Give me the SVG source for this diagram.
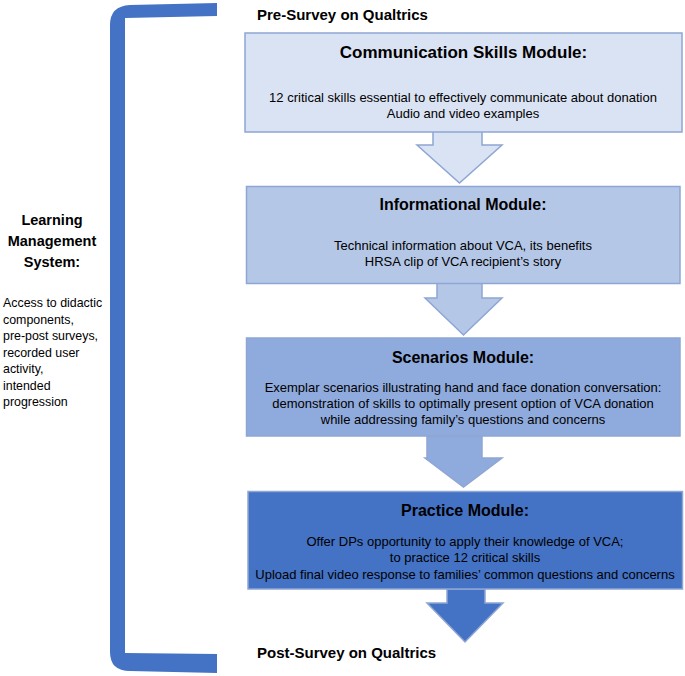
<svg xmlns="http://www.w3.org/2000/svg" width="685" height="676" viewBox="0 0 685 676">
<style>
text{font-family:"Liberation Sans",Arial,sans-serif;fill:#000}
.t{font-size:16px;font-weight:bold;text-anchor:middle}
.b{font-size:13px;text-anchor:middle}
.s{font-size:15px;font-weight:bold}
.lb{font-size:14.5px;font-weight:bold;text-anchor:middle}
.l{font-size:12.4px}
.box{stroke:#8EA6D4;stroke-width:1.5}
.c1{fill:#DAE3F3}.c2{fill:#B4C7E7}.c3{fill:#8FAADC}.c4{fill:#4472C4}
</style>
<rect width="685" height="676" fill="#fff"/>
<g id="bracket">
<path d="M217,3 L130,5 Q110,6 110,25 L110,652 Q110,671 130,671 L217,673 L217,654 L125,653 L125,18 L217,16 Z" fill="#4472C4"/>
</g>
<g id="connectors">
<polygon class="box c1" points="433,131 482,131 482,145 502,145 459.5,183 417,145 433,145"/>
<polygon class="box c2" points="437,283 482,283 482,298 502,298 463.5,335 425,298 437,298"/>
<polygon class="box c3" points="427,436 482,436 482,458 502,458 463.5,487 425,458 427,458"/>
<polygon class="box c4" points="447,589 485,589 485,603 503,603 465,642 427,603 447,603"/>
</g>
<g id="pre-survey"><text class="s" x="257" y="20">Pre-Survey on Qualtrics</text></g>
<g id="communication">
<rect class="box c1" x="245" y="33" width="437" height="99"/>
<text class="t" x="463.5" y="58" style="font-size:17px">Communication Skills Module:</text>
<text class="b" x="463" y="102">12 critical skills essential to effectively communicate about donation</text>
<text class="b" x="463" y="118">Audio and video examples</text>
</g>
<g id="informational">
<rect class="box c2" x="246.5" y="186.5" width="433.5" height="97"/>
<text class="t" x="463" y="210">Informational Module:</text>
<text class="b" x="463" y="250">Technical information about VCA, its benefits</text>
<text class="b" x="463" y="266">HRSA clip of VCA recipient’s story</text>
</g>
<g id="scenarios">
<rect class="box c3" x="246.5" y="338" width="433.5" height="98"/>
<text class="t" x="463" y="363">Scenarios Module:</text>
<text class="b" x="463" y="392">Exemplar scenarios illustrating hand and face donation conversation:</text>
<text class="b" x="463" y="408">demonstration of skills to optimally present option of VCA donation</text>
<text class="b" x="463" y="424">while addressing family’s questions and concerns</text>
</g>
<g id="practice">
<rect class="box c4" x="248" y="491.5" width="434.5" height="97.5"/>
<text class="t" x="465" y="516">Practice Module:</text>
<text class="b" x="465" y="546">Offer DPs opportunity to apply their knowledge of VCA;</text>
<text class="b" x="465" y="562">to practice 12 critical skills</text>
<text class="b" x="465" y="579">Upload final video response to families’ common questions and concerns</text>
</g>
<g id="post-survey"><text class="s" x="257" y="658">Post-Survey on Qualtrics</text></g>
<g id="lms">
<text class="lb" x="52" y="225">Learning</text>
<text class="lb" x="52" y="246">Management</text>
<text class="lb" x="52" y="267">System:</text>
<text class="l" x="3" y="307">Access to didactic</text>
<text class="l" x="3" y="323.5">components,</text>
<text class="l" x="3" y="340">pre-post surveys,</text>
<text class="l" x="3" y="356.5">recorded user</text>
<text class="l" x="3" y="373">activity,</text>
<text class="l" x="3" y="389.5">intended</text>
<text class="l" x="3" y="406">progression</text>
</g>
</svg>
